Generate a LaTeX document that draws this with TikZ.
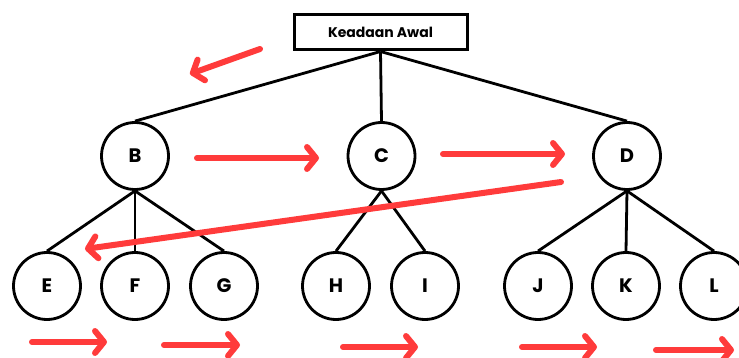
\documentclass[tikz,border=0pt]{standalone}
\usepackage{fontspec}
\setmainfont{Poppins}
\usetikzlibrary{arrows.meta}
\definecolor{arrowred}{HTML}{FF3B3B}
\tikzset{
  treenode/.style={circle, draw=black, line width=2.8pt, minimum size=67pt, inner sep=0pt,
                   font=\fontsize{19.5}{19.5}\selectfont\bfseries},
  rootbox/.style={draw=black, line width=3pt, minimum width=173pt, minimum height=35pt,
                  inner sep=0pt, font=\fontsize{14}{14}\selectfont\bfseries},
  branch/.style={line width=2.8pt, black},
  order/.style={line width=6pt, arrowred, line cap=round,
                -{Straight Barb[length=9pt, width=22pt, line cap=round, round]}}
}
\begin{document}
\begin{tikzpicture}[x=1pt, y=-1pt]
  \useasboundingbox (0,0) rectangle (739,358);
  \fill[white] (0,0) rectangle (739,358);

  % tree nodes
  \node[rootbox] (root) at (380.5,32.5) {Keadaan Awal};
  \node[treenode] (B) at (135,156) {B};
  \node[treenode] (C) at (381.5,156) {C};
  \node[treenode] (D) at (627,156) {D};
  \node[treenode] (E) at (47,286) {E};
  \node[treenode] (F) at (135,286) {F};
  \node[treenode] (G) at (224,286) {G};
  \node[treenode] (H) at (336,286) {H};
  \node[treenode] (I) at (425,286) {I};
  \node[treenode] (J) at (538,286) {J};
  \node[treenode] (K) at (626,286) {K};
  \node[treenode] (L) at (714,286) {L};

  % branches
  \foreach \c in {B,C,D} \draw[branch] (root.south) -- (\c.north);
  \foreach \c in {E,F,G} \draw[branch] (B.south) -- (\c.north);
  \foreach \c in {H,I} \draw[branch] (C.south) -- (\c.north);
  \foreach \c in {J,K,L} \draw[branch] (D.south) -- (\c.north);

  % traversal order arrows
  \coordinate (t0s) at (260,49);   \coordinate (t0e) at (190,74);
  \coordinate (t1s) at (197,158);  \coordinate (t1e) at (319,158);
  \coordinate (t2s) at (443,154);  \coordinate (t2e) at (565,154);
  \coordinate (t3s) at (561,182);  \coordinate (t3e) at (85,249);
  \coordinate (b1s) at (32,342);   \coordinate (b1e) at (107,342);
  \coordinate (b2s) at (164,345);  \coordinate (b2e) at (240,345);
  \coordinate (b3s) at (343,347);  \coordinate (b3e) at (418,347);
  \coordinate (b4s) at (522,347);  \coordinate (b4e) at (597,347);
  \coordinate (b5s) at (656,350);  \coordinate (b5e) at (734,350);

  \foreach \a in {t0,t1,t2,t3,b1,b2,b3,b4,b5}
    \draw[order] (\a s) -- (\a e);
\end{tikzpicture}
\end{document}
